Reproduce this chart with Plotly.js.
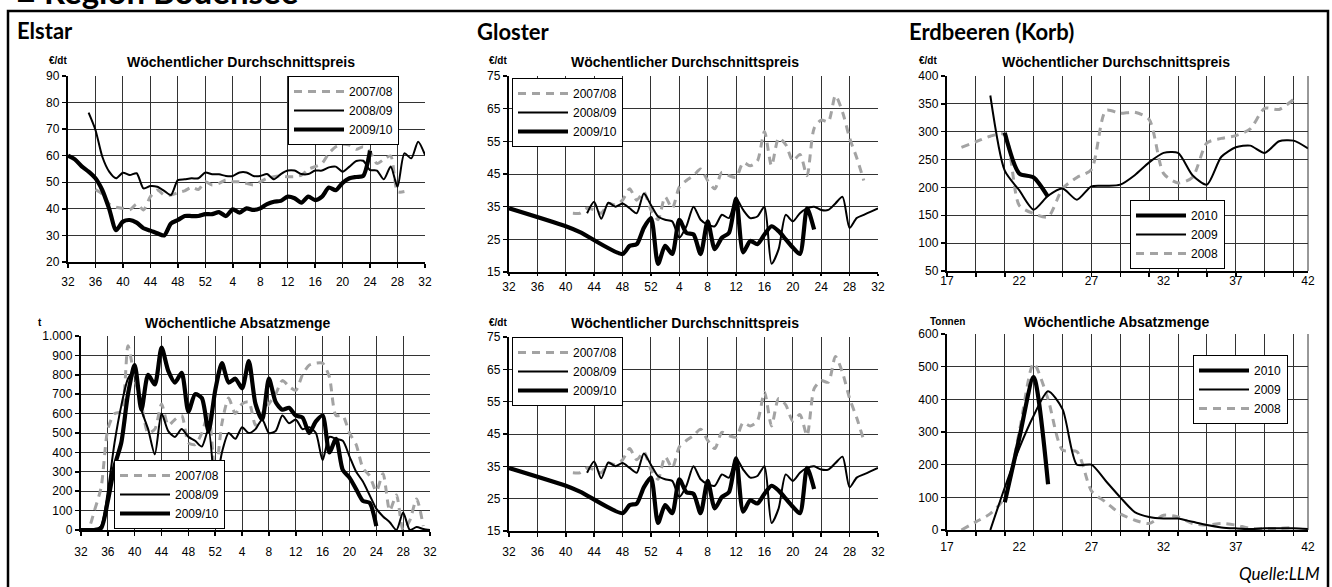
<!DOCTYPE html>
<html><head><meta charset="utf-8">
<script src="https://cdn.plot.ly/plotly-3.0.1.min.js"></script>
<style>html,body{margin:0;padding:0;background:#fff}#chart{width:1332px;height:587px}</style>
</head><body><div id="chart"></div>
<script>
// ---------- DATA ----------
// season axis: week 32 of one year to week 32 of the next
const seasonWeeks = [32,33,34,35,36,37,38,39,40,41,42,43,44,45,46,47,48,49,50,51,52,
  1,2,3,4,5,6,7,8,9,10,11,12,13,14,15,16,17,18,19,20,21,22,23,24,25,26,27,28,29,30,31,32];
const seasonTickLabels = ['32','36','40','44','48','52','4','8','12','16','20','24','28','32'];
const seasonNames = ['2007/08','2008/09','2009/10'];
const N = null;

// Elstar – weekly average price (€/dt)
const elstarPrice0708 = [N,N,N,N,47.3,45.5,41.8,40.6,40.2,39.6,41.8,39.6,44.6,47.1,45.2,45.2,46.1,46.8,48.1,47.3,50.2,49,49.6,50.9,50.2,50.2,49.6,49,50.2,51.5,52.1,52.4,52.1,52.1,52.7,54.9,55.9,57.1,60.9,63.4,64.3,64,62.4,63.4,61.5,57.1,58.6,59.9,46.5,46.5,N,N,N];
const elstarPrice0809 = [N,N,N,76.2,69.7,59.6,54,51.5,53.6,52.7,53.4,47.7,48.6,48.3,46.8,45.2,50.8,51.1,51.5,51.5,53.7,53,53,52.4,52.4,53.7,53.7,52.4,52.4,53.1,51.1,53.1,54.4,54.4,53.1,53.1,54.4,54.4,55.6,55.9,54,55.9,58,58.1,54.6,54.4,51.1,55.9,48.3,60.9,59,65.3,60.3];
const elstarPrice0910 = [60,58.6,56,54,51.5,47,40,32,35.2,35.8,34.8,32.7,31.8,30.8,30,34.5,35.8,37.3,37.3,37.3,38,38,38.8,37.3,39.8,38.6,40.2,39.6,40.2,41.8,42.7,43,44.6,44,42.3,44.6,43.3,44.6,48,47,49.8,51.5,52,52.4,61.9,N,N,N,N,N,N,N,N];

// Elstar – weekly sales volume (t)
const elstarVol0708 = [0,0,100,220,520,600,610,950,780,650,500,520,650,540,570,590,450,440,500,600,280,550,680,600,650,660,540,600,650,700,770,740,720,800,850,860,860,790,590,590,500,440,320,280,200,290,100,180,0,50,160,20,N];
const elstarVol0809 = [0,0,0,20,200,450,640,780,820,620,520,390,600,510,480,520,480,460,430,520,220,400,500,470,530,500,520,570,500,510,590,550,570,520,530,500,360,480,470,460,380,300,250,180,110,70,40,0,90,0,15,5,0];
const elstarVol0910 = [0,0,0,10,150,330,450,700,850,620,800,750,940,820,760,810,610,700,680,510,720,860,760,780,730,870,650,570,780,660,620,630,590,580,500,560,590,400,470,310,270,210,150,140,20,N,N,N,N,N,N,N,N];
const volumeTickLabels = ['0','100','200','300','400','500','600','700','800','900','1.000'];

// Gloster – weekly average price (€/dt)
const glosterPrice0708 = [N,N,N,N,N,N,N,N,N,33,33,34.5,34,33,36,35.5,37,40.5,37,39.5,34,31,38,34.5,41,43,44.5,46.5,43,40.5,45.5,44.5,44,48.5,47.5,49,58,47.5,56,54,49,51,44.5,59,61.5,61,69,64,56,50,43,N,N];
const glosterPrice0809 = [N,N,N,N,N,N,N,N,N,N,N,33,36.5,31.3,36.2,35,36,34.5,33,39,35.5,32,31,30.5,25.5,29,35,31,29.5,29,32.5,31.5,37.5,34,31.5,32,35,17.5,22,32.5,30.5,33,34.5,35,34,34,36,38,28.5,31.5,32.5,33.5,34.5];
const glosterPrice0910 = [34.5,N,N,N,N,N,N,N,29,N,27.2,N,N,N,N,N,20.5,23,23.5,28.5,31.5,17.5,23,20.5,31,27,26.5,20.5,30.5,22,25.5,27,37.5,21,24.5,23.5,26.5,29,27.5,25,22.5,20.5,34.5,28,N,N,N,N,N,N,N,N,N];

// Erdbeeren (Korb) – calendar weeks 17..42
const strawWeeks = [17,18,19,20,21,22,23,24,25,26,27,28,29,30,31,32,33,34,35,36,37,38,39,40,41,42];
const strawTickLabels = ['17','22','27','32','37','42'];
const strawNames = ['2008','2009','2010'];
const strawPrice2008 = [N,272,282,292,295,168,153,147,198,218,232,338,333,335,322,225,208,218,280,288,293,305,342,340,358,N];
const strawPrice2009 = [N,N,N,365,230,195,160,185,198,178,202,203,205,222,245,262,262,222,205,255,272,275,262,283,284,270];
const strawPrice2010 = [N,N,N,N,298,225,218,183,N,N,N,N,N,N,N,N,N,N,N,N,N,N,N,N,N,N];
const strawVol2008 = [N,0,25,50,100,300,510,400,245,240,120,85,50,30,20,45,40,20,15,20,15,5,5,5,8,N];
const strawVol2009 = [N,N,N,0,130,250,350,425,370,200,200,150,100,55,40,35,35,25,15,8,5,3,5,5,5,3];
const strawVol2010 = [N,N,N,N,85,280,468,140,N,N,N,N,N,N,N,N,N,N,N,N,N,N,N,N,N,N];

// ---------- LAYOUT HELPERS ----------
const W = 1332, H = 587;
const FONT = 'Liberation Sans, Arial, sans-serif';
const HEAD = 'Lato, "Open Sans", sans-serif';
const px = v => v / W;
const py = v => 1 - v / H;
const dx = (a, b) => [px(a), px(b)];
const dy = (top, bottom) => [py(bottom), py(top)];

const seasonIdx = seasonWeeks.map((w, i) => i);
const seasonTickVals = seasonIdx.filter(i => i % 4 === 0);

const styles = [
  {color:'#a3a3a3', width:3, dash:'8px,6px'},
  {color:'#000', width:2},
  {color:'#000', width:4.2}
];

const traces = [];
function add(x, y, name, st, xa, ya, leg) {
  traces.push({type:'scatter', mode:'lines', x, y, name, xaxis:xa, yaxis:ya, legend:leg,
    line:Object.assign({shape:'spline', smoothing:0.7}, st), connectgaps:true, hoverinfo:'skip'});
}
[elstarPrice0708, elstarPrice0809, elstarPrice0910].forEach((s,i)=>add(seasonIdx, s, seasonNames[i], styles[i], 'x', 'y', 'legend'));
[elstarVol0708, elstarVol0809, elstarVol0910].forEach((s,i)=>add(seasonIdx, s, seasonNames[i], styles[i], 'x2', 'y2', 'legend2'));
[glosterPrice0708, glosterPrice0809, glosterPrice0910].forEach((s,i)=>add(seasonIdx, s, seasonNames[i], styles[i], 'x3', 'y3', 'legend3'));
[glosterPrice0708, glosterPrice0809, glosterPrice0910].forEach((s,i)=>add(seasonIdx, s, seasonNames[i], styles[i], 'x4', 'y4', 'legend4'));
[strawPrice2008, strawPrice2009, strawPrice2010].forEach((s,i)=>add(strawWeeks, s, strawNames[i], styles[i], 'x5', 'y5', 'legend5'));
[strawVol2008, strawVol2009, strawVol2010].forEach((s,i)=>add(strawWeeks, s, strawNames[i], styles[i], 'x6', 'y6', 'legend6'));
// label-only axes for strawberry charts
traces.push({type:'scatter', x:[], y:[], xaxis:'x7', yaxis:'y5', showlegend:false, hoverinfo:'skip'});
traces.push({type:'scatter', x:[], y:[], xaxis:'x8', yaxis:'y6', showlegend:false, hoverinfo:'skip'});

const GRID = '#333';
const TICKFONT = {family:FONT, size:12, color:'#000'};
function baseAxis(extra) {
  return Object.assign({showline:true, linecolor:'#000', linewidth:2.2, showgrid:true, gridcolor:GRID, gridwidth:1,
    ticks:'outside', ticklen:4, tickwidth:1.5, tickcolor:'#000', zeroline:false, fixedrange:true,
    tickfont:TICKFONT}, extra);
}
function seasonX(dom, anchor, standoff, extra) {
  return baseAxis(Object.assign({domain:dom, anchor, range:[0,52], tickmode:'array', tickvals:seasonTickVals, ticktext:seasonTickLabels, ticklabelstandoff:standoff}, extra || {}));
}
function strawX(dom, anchor) {
  return baseAxis({domain:dom, anchor, range:[17,42], tickmode:'linear', tick0:17, dtick:2, showticklabels:false});
}
function strawLabelX(over, anchor, standoff) {
  return {overlaying:over, anchor, range:[17,42], tickmode:'array', tickvals:strawTickLabels.map(Number), ticktext:strawTickLabels,
    showgrid:false, showline:false, zeroline:false, ticks:'', fixedrange:true, ticklabelstandoff:standoff,
    tickfont:TICKFONT};
}

function legendAt(left, top, anchorY, extra) {
  return Object.assign({x:px(left), y:py(top), xanchor:'left', yanchor:anchorY || 'top', bgcolor:'#fff', bordercolor:'#000', borderwidth:1,
    font:{family:FONT, size:12, color:'#000'}, itemwidth:50, tracegroupgap:0, traceorder:'normal'}, extra || {});
}

const ann = [];
function text(t, x, y, size, opts) {
  ann.push(Object.assign({text:t, x:px(x), y:py(y), xref:'paper', yref:'paper', showarrow:false,
    xanchor:'center', yanchor:'middle', font:{family:FONT, size, color:'#000'}}, opts || {}));
}
text('<b>■ Region Bodensee</b>', 14, -9, 33, {xanchor:'left', font:{family:HEAD, size:33, color:'#000'}});
text('<b>Elstar</b>', 15, 30, 22, {xanchor:'left', font:{family:HEAD, size:22, color:'#000'}});
text('<b>Gloster</b>', 475, 31, 22, {xanchor:'left', font:{family:HEAD, size:22, color:'#000'}});
text('<b>Erdbeeren (Korb)</b>', 907, 31, 22, {xanchor:'left', font:{family:HEAD, size:22, color:'#000'}});
text('<b>Wöchentlicher Durchschnittspreis</b>', 241, 62, 14);
text('<b>Wöchentliche Absatzmenge</b>', 238, 323, 14);
text('<b>Wöchentlicher Durchschnittspreis</b>', 685, 62, 14);
text('<b>Wöchentlicher Durchschnittspreis</b>', 685, 323, 14);
text('<b>Wöchentlicher Durchschnittspreis</b>', 1116, 62, 14);
text('<b>Wöchentliche Absatzmenge</b>', 1117, 322, 14);
text('<b>€/dt</b>', 58, 61, 10);
text('<b>t</b>', 40, 322, 10);
text('<b>€/dt</b>', 498, 61, 10);
text('<b>€/dt</b>', 498, 322, 10);
text('<b>€/dt</b>', 928, 61, 10);
text('<b>Tonnen</b>', 948, 321, 10);
text('<i>Quelle:LLM</i>', 1322, 573, 17, {xanchor:'right', font:{family:HEAD, size:17, color:'#000'}});

const layout = {
  width:W, height:H, margin:{l:0, r:0, t:0, b:0}, paper_bgcolor:'#fff', plot_bgcolor:'rgba(0,0,0,0)',
  font:{family:FONT, color:'#000'},
  xaxis: seasonX(dx(68,425), 'y', 3),
  yaxis: baseAxis({domain:dy(76,262), anchor:'x', range:[20,90], dtick:10, tick0:20}),
  xaxis2: seasonX(dx(81,430), 'y2', 5),
  yaxis2: baseAxis({domain:dy(336,530), anchor:'x2', range:[0,1000], tickmode:'array', tickvals:volumeTickLabels.map((t,i)=>i*100), ticktext:volumeTickLabels}),
  xaxis3: seasonX(dx(509,878), 'y3', 0, {ticklen:2}),
  yaxis3: baseAxis({domain:dy(76,272), anchor:'x3', range:[15,75], dtick:10, tick0:15}),
  xaxis4: seasonX(dx(509,878), 'y4', 4),
  yaxis4: baseAxis({domain:dy(337,531), anchor:'x4', range:[15,75], dtick:10, tick0:15}),
  xaxis5: strawX(dx(947,1308), 'y5'),
  yaxis5: baseAxis({domain:dy(76,271), anchor:'x5', range:[50,400], dtick:50, tick0:50}),
  xaxis6: strawX(dx(947,1308), 'y6'),
  yaxis6: baseAxis({domain:dy(334,530), anchor:'x6', range:[0,600], dtick:100, tick0:0}),
  xaxis7: strawLabelX('x5', 'y5', 1),
  xaxis8: strawLabelX('x6', 'y6', 8),
  legend: legendAt(288, 76, 'top', {entrywidth:80}),
  legend2: legendAt(114, 529, 'bottom'),
  legend3: legendAt(512, 78),
  legend4: legendAt(512, 337),
  legend5: legendAt(1130, 200, 'top', {traceorder:'reversed'}),
  legend6: legendAt(1193, 355, 'top', {traceorder:'reversed'}),
  showlegend:true,
  annotations: ann,
  shapes: [
    {type:'rect', xref:'paper', yref:'paper', x0:px(8), x1:px(1328), y0:-0.1, y1:py(11), line:{color:'#000', width:2.5}, layer:'below'},
    {type:'line', xref:'x5 domain', yref:'y5 domain', x0:1, x1:1, y0:0, y1:1, line:{color:GRID, width:1}},
    {type:'line', xref:'x6 domain', yref:'y6 domain', x0:1, x1:1, y0:0, y1:1, line:{color:GRID, width:1}}
  ]
};

Plotly.newPlot('chart', traces, layout, {displayModeBar:false, staticPlot:true});
</script>
</body></html>
